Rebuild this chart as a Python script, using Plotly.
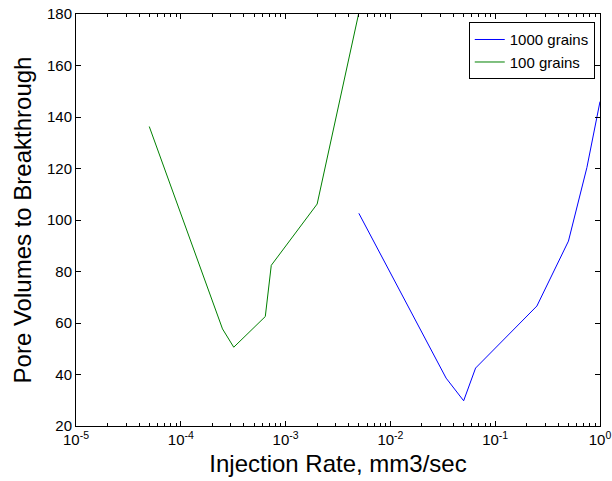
import plotly.graph_objects as go

rate_1000 = [0.005, 0.034, 0.05, 0.065, 0.25, 0.5, 0.75, 1.0]
pv_1000 = [102.6, 38.6, 29.8, 42.5, 66.6, 91.8, 120.4, 146.0]

rate_100 = [5e-5, 2.5e-4, 3.2e-4, 6.4e-4, 7.3e-4, 2e-3, 5e-3]
pv_100 = [136.3, 57.7, 50.6, 62.5, 82.4, 106.2, 180.5]

x_tickvals = [1e-5, 1e-4, 1e-3, 1e-2, 1e-1, 1e0]
x_ticktext = ["10<sup>-5</sup>", "10<sup>-4</sup>", "10<sup>-3</sup>",
              "10<sup>-2</sup>", "10<sup>-1</sup>", "10<sup>0</sup>"]
y_tickvals = [20, 40, 60, 80, 100, 120, 140, 160, 180]

fig = go.Figure()
fig.add_trace(go.Scatter(x=rate_1000, y=pv_1000, mode="lines", name="1000 grains",
                         line=dict(color="#0000ff", width=1)))
fig.add_trace(go.Scatter(x=rate_100, y=pv_100, mode="lines", name="100 grains",
                         line=dict(color="#008000", width=1)))

font = "Liberation Sans, Arial, sans-serif"
fig.update_layout(
    width=612, height=481,
    margin=dict(l=76, r=12, t=14, b=55),
    paper_bgcolor="white", plot_bgcolor="white",
    font=dict(family=font, color="black", size=15),
    showlegend=True,
    legend=dict(x=0.99, y=0.98, xanchor="right", yanchor="top",
                bordercolor="black", borderwidth=1, bgcolor="white",
                font=dict(family=font, size=15), tracegroupgap=0,
                entrywidth=140, entrywidthmode="pixels"),
)
fig.update_xaxes(
    type="log", range=[-5, 0], automargin=False,
    tickvals=x_tickvals, ticktext=x_ticktext,
    ticks="inside", ticklen=5, tickcolor="black",
    minor=dict(ticks="inside", ticklen=3, tickcolor="black", dtick="D1", showgrid=False),
    showline=True, linecolor="black", linewidth=1, mirror="ticks",
    showgrid=False, zeroline=False,
    tickfont=dict(family=font, size=15),
    title=dict(text="Injection Rate, mm3/sec", font=dict(family=font, size=24), standoff=8),
)
fig.update_yaxes(
    range=[20, 180], tickvals=y_tickvals, automargin=False,
    ticks="inside", ticklen=5, tickcolor="black",
    showline=True, linecolor="black", linewidth=1, mirror="ticks",
    showgrid=False, zeroline=False,
    tickfont=dict(family=font, size=15),
    title=dict(text="Pore Volumes to Breakthrough", font=dict(family=font, size=24), standoff=8),
)

fig.write_html("out.html", config={"displayModeBar": False},
               post_script="document.body.style.margin='0';document.body.style.overflow='hidden';")
